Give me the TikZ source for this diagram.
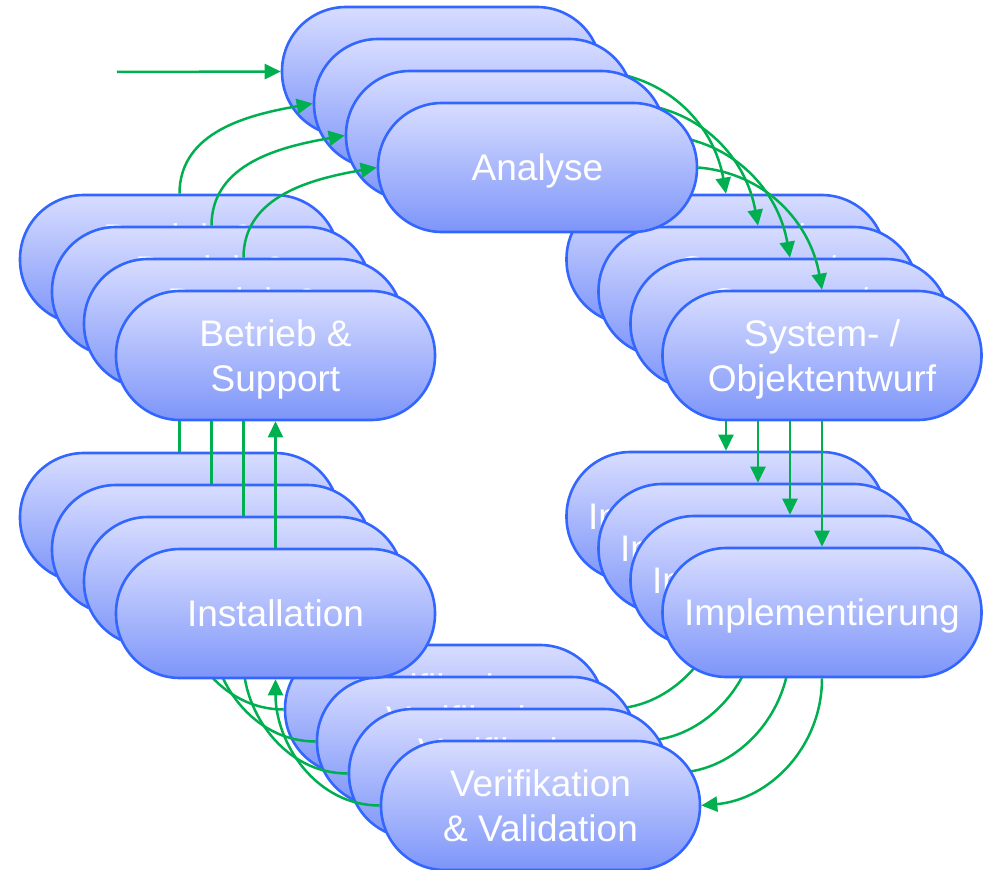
\documentclass[tikz,border=0pt]{standalone}
\usepackage{fontspec}
\setmainfont{Liberation Sans}
\usetikzlibrary{arrows.meta}

\definecolor{phaseedge}{HTML}{3366FF}
\definecolor{phasetop}{HTML}{D8DDFF}
\definecolor{phasebottom}{HTML}{7D95F9}
\definecolor{flowgreen}{HTML}{00B050}
\newcommand\phasefont{\fontsize{37}{45}\selectfont}

\begin{document}
\begin{tikzpicture}[x=1pt, y=-1pt,
  phase/.style={rectangle, rounded corners=64pt,
    minimum width=319pt, minimum height=129pt, inner sep=0pt,
    draw=phaseedge, line width=2.6pt,
    top color=phasetop, bottom color=phasebottom,
    text=white, font=\phasefont, align=center, text depth=0pt},
  flow/.style={draw=flowgreen, line width=2.5pt,
    -{Triangle[length=16pt, width=15pt]}}]
\useasboundingbox (0,0) rectangle (986,870);

% entry into the first iteration
\coordinate (entry) at (117,72);

% four iterations, each one a layer of all six phases plus its transitions
\foreach \k in {0,1,2,3}{
  \pgfmathsetmacro\d{32*\k}
  \pgfmathtruncatemacro\p{\k-1}
  \node[phase] (A\k) at ({441.5+\d},{71.5+\d}) {Analyse};
  \ifnum\k=0
    \draw[flow] (entry) -- (A0.west);
  \else
    \draw[flow] (B\p.north) to[out=90, in=190] (A\k.west);
  \fi
  \node[phase] (S\k) at ({726+\d},{259.5+\d}) {System- /\\Objektentwurf};
  \node[phase] (I\k) at ({726+\d},{516.5+\d}) {Implementierung};
  \node[phase] (V\k) at ({444.5+\d},{709.5+\d}) {Verifikation\\\& Validation};
  \node[phase] (N\k) at ({179.5+\d},{517.5+\d}) {Installation};
  \node[phase] (B\k) at ({179.5+\d},{259.5+\d}) {Betrieb \&\\Support};
  \draw[flow] (A\k.east) to[out=-5, in=100] (S\k.north);
  \draw[flow] (S\k.south) -- (I\k.north);
  \draw[flow] (I\k.south) to[out=-90, in=5] (V\k.east);
  \draw[flow] (V\k.west) to[out=180, in=-90] (N\k.south);
  \draw[flow] (N\k.north) -- (B\k.south);
}
\end{tikzpicture}
\end{document}
